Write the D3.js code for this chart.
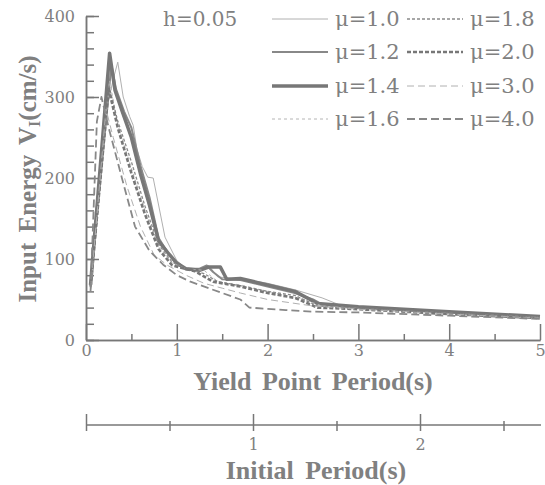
<!DOCTYPE html>
<html>
<head>
<meta charset="utf-8">
<script src="https://cdn.jsdelivr.net/npm/d3@7"></script>
<style>
	body { margin: 0; background: #fff; }
	svg text { fill: #808080; }
</style>
</head>
<body>
<div id="chart"></div>
<script>
// Data: [yield point period (s), input energy (cm/s)]
var mu10 = [[0.05,65],[0.2,270],[0.3,322],[0.35,343],[0.41,300],[0.48,276],[0.52,265],[0.56,236],[0.62,214],[0.68,201],[0.74,200],[0.87,127],[1.0,98],[1.1,88],[1.25,86],[1.35,92],[1.45,78],[1.6,76],[1.8,74],[2.0,70],[2.3,62],[2.6,52],[2.8,43],[3.0,40],[3.5,37],[4.0,34],[4.5,31],[5.0,29]];
var mu12 = [[0.05,70],[0.28,340],[0.33,310],[0.42,282],[0.5,262],[0.6,215],[0.7,176],[0.8,126],[0.9,108],[1.0,93],[1.1,88],[1.25,88],[1.33,92],[1.4,84],[1.5,75],[1.7,74],[2.0,66],[2.3,58],[2.5,50],[2.6,44],[3.0,40],[4.0,34],[5.0,29]];
var mu14 = [[0.05,68],[0.26,354],[0.32,308],[0.4,282],[0.5,250],[0.6,205],[0.7,166],[0.8,122],[0.9,108],[1.0,95],[1.1,88],[1.25,86],[1.35,90],[1.48,90],[1.55,75],[1.7,76],[2.0,68],[2.3,60],[2.55,45],[3.0,41],[4.0,35],[5.0,29]];
var mu16 = [[0.05,62],[0.26,320],[0.35,266],[0.5,212],[0.65,160],[0.8,115],[0.95,95],[1.1,88],[1.3,86],[1.45,72],[1.7,68],[2.0,60],[2.4,50],[2.6,42],[3.0,39],[4.0,33],[5.0,28]];
var mu18 = [[0.05,64],[0.25,315],[0.35,270],[0.5,220],[0.65,165],[0.8,118],[0.95,96],[1.1,88],[1.3,82],[1.45,72],[1.7,67],[2.0,60],[2.3,55],[2.55,42],[3.0,39],[4.0,33],[5.0,28]];
var mu20 = [[0.05,66],[0.25,310],[0.35,262],[0.5,206],[0.65,155],[0.8,112],[0.95,92],[1.2,85],[1.4,72],[1.7,66],[2.0,58],[2.3,52],[2.55,40],[3.0,38],[4.0,32],[5.0,27]];
var mu30 = [[0.05,62],[0.22,285],[0.3,250],[0.45,190],[0.6,140],[0.75,105],[0.9,92],[1.1,80],[1.3,70],[1.5,64],[1.7,58],[2.0,50],[2.5,42],[3.0,38],[4.0,32],[5.0,27]];
var mu40 = [[0.05,60],[0.12,270],[0.17,300],[0.25,262],[0.4,198],[0.54,140],[0.7,110],[0.85,93],[1.0,80],[1.15,72],[1.35,64],[1.7,50],[1.8,40],[2.2,37],[2.5,35],[3.0,34],[4.0,30],[5.0,26]];

var muLabels = ["\u03bc=1.0", "\u03bc=1.2", "\u03bc=1.4", "\u03bc=1.6", "\u03bc=1.8", "\u03bc=2.0", "\u03bc=3.0", "\u03bc=4.0"];
var yTicks = [0, 100, 200, 300, 400];
var xTicks = [0, 1, 2, 3, 4, 5];
var initialTicks = [1, 2];

// Line styles, same order as the labels
var styles = [
	{color: "#b0b0b0", width: 1,   dash: null},
	{color: "#888",    width: 2,   dash: null},
	{color: "#777",    width: 3.5, dash: null},
	{color: "#b4b4b4", width: 1,   dash: "3,3"},
	{color: "#8a8a8a", width: 1.3, dash: "3,2"},
	{color: "#777",    width: 2.6, dash: "4,2"},
	{color: "#b0b0b0", width: 1,   dash: "7,4"},
	{color: "#888",    width: 1.8, dash: "8,4"}
];
var series = [mu10, mu12, mu14, mu16, mu18, mu20, mu30, mu40];

var width = 545, height = 485;
var svg = d3.select("#chart").append("svg")
	.attr("width", width)
	.attr("height", height);

var x = d3.scaleLinear().domain([0, 5]).range([86, 540]);
var y = d3.scaleLinear().domain([0, 400]).range([340, 16]);
var x0 = d3.scaleLinear().domain([0, 1]).range([86, 253]);

var tickFont = "DejaVu Serif";
var titleFont = "Liberation Serif";

// Y axis: minor ticks every 20, majors with labels
var yMinor = svg.append("g").attr("transform", "translate(86,0)")
	.call(d3.axisLeft(y).tickValues(d3.range(0, 401, 20)).tickSize(-8).tickSizeOuter(0).tickFormat(""));
var yMajor = svg.append("g").attr("transform", "translate(86,0)")
	.call(d3.axisLeft(y).tickValues(yTicks).tickSize(-13).tickSizeOuter(0).tickPadding(11));

// X axis
var xMinor = svg.append("g").attr("transform", "translate(0,340)")
	.call(d3.axisBottom(x).tickValues(d3.range(0.5, 5, 1)).tickSize(-6).tickSizeOuter(0).tickFormat(""));
var xMajor = svg.append("g").attr("transform", "translate(0,340)")
	.call(d3.axisBottom(x).tickValues(xTicks).tickSize(-16).tickSizeOuter(0).tickPadding(5).tickFormat(d3.format("d")));

// Initial period axis, ticks cross the line
var xInit = svg.append("g").attr("transform", "translate(0,425)")
	.call(d3.axisBottom(x0).tickValues(d3.range(0, 2.6, 0.5)).tickSize(6).tickSizeOuter(0).tickPadding(8)
		.tickFormat(function(d) { return initialTicks.indexOf(d) >= 0 ? d : ""; }));
xInit.select(".domain").attr("d", "M86,0H541");
xInit.selectAll(".tick line")
	.attr("y1", function(d) { return d % 1 === 0 ? -11 : -4; })
	.attr("y2", 6);

[yMinor, yMajor, xMinor, xMajor, xInit].forEach(function(g) {
	g.selectAll("path, line").attr("stroke", "#777").attr("stroke-width", 1.5);
	g.selectAll("text")
		.attr("font-family", tickFont)
		.attr("font-size", 16)
		.attr("fill", "#8a8a8a");
});

// Curves
var line = d3.line()
	.x(function(d) { return x(d[0]); })
	.y(function(d) { return y(d[1]); });

svg.append("g").selectAll("path")
	.data(series)
	.enter().append("path")
	.attr("d", line)
	.attr("fill", "none")
	.attr("stroke", function(d, i) { return styles[i].color; })
	.attr("stroke-width", function(d, i) { return styles[i].width; })
	.attr("stroke-dasharray", function(d, i) { return styles[i].dash; })
	.attr("stroke-linejoin", "round");

// Legend, two columns of four rows
var rowY = [19, 52, 86, 119];
var colLine = [272, 407];
var legend = svg.append("g").selectAll("g")
	.data(muLabels)
	.enter().append("g")
	.attr("transform", function(d, i) {
		return "translate(" + colLine[Math.floor(i / 4)] + "," + rowY[i % 4] + ")";
	});
legend.append("line")
	.attr("x1", 0).attr("x2", 56)
	.attr("stroke", function(d, i) { return styles[i].color; })
	.attr("stroke-width", function(d, i) { return styles[i].width; })
	.attr("stroke-dasharray", function(d, i) { return styles[i].dash; });
legend.append("text")
	.attr("x", 63)
	.attr("y", 7)
	.attr("font-family", tickFont)
	.attr("font-size", 21)
	.attr("fill", "#808080")
	.text(function(d) { return d; });

svg.append("text")
	.attr("x", 163).attr("y", 26)
	.attr("font-family", tickFont)
	.attr("font-size", 20)
	.text("h=0.05");

// Axis titles
svg.append("text")
	.attr("x", 313).attr("y", 390)
	.attr("text-anchor", "middle")
	.attr("font-family", titleFont)
	.attr("font-weight", "bold")
	.attr("font-size", 26)
	.attr("word-spacing", 4)
	.text("Yield Point Period(s)");

svg.append("text")
	.attr("x", 316).attr("y", 479)
	.attr("text-anchor", "middle")
	.attr("font-family", titleFont)
	.attr("font-weight", "bold")
	.attr("font-size", 26)
	.attr("word-spacing", 5)
	.text("Initial Period(s)");

var yTitle = svg.append("text")
	.attr("transform", "translate(36,179) rotate(-90)")
	.attr("text-anchor", "middle")
	.attr("font-family", titleFont)
	.attr("font-weight", "bold")
	.attr("font-size", 25)
	.attr("word-spacing", 4);
yTitle.append("tspan").text("Input Energy V");
yTitle.append("tspan").attr("font-size", 16).attr("dy", 4).text("I");
yTitle.append("tspan").attr("dy", -4).text("(cm/s)");
</script>
</body>
</html>
